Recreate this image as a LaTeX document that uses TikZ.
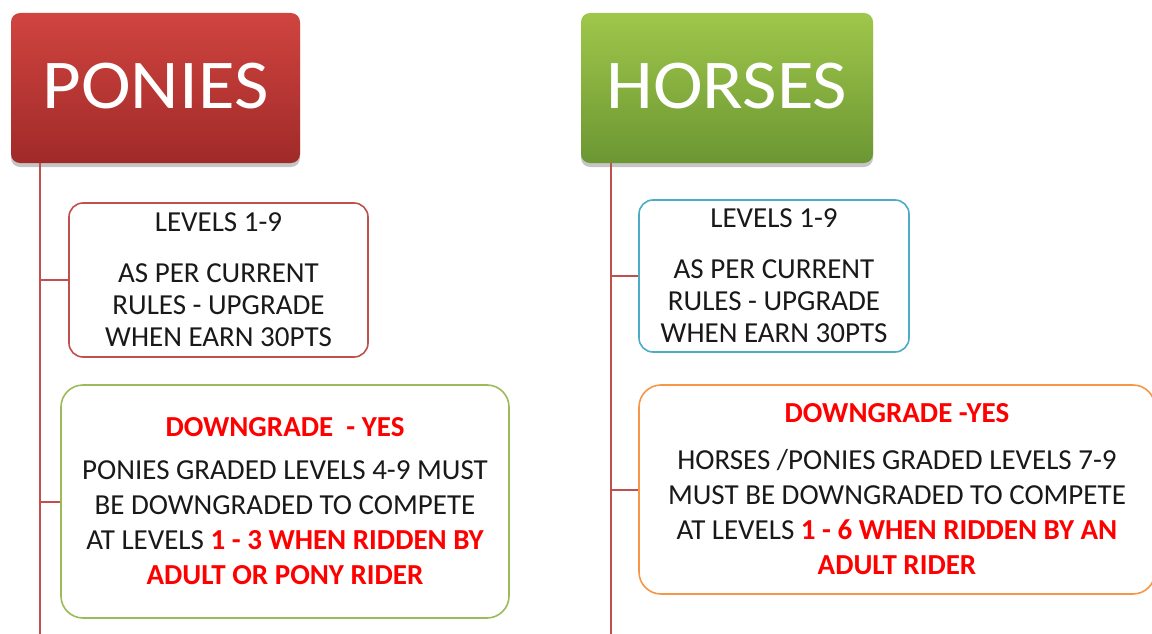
\documentclass[tikz,border=0pt]{standalone}
\usepackage{fontspec}
\setmainfont{Carlito}
\usetikzlibrary{shadows}
\definecolor{lnred}{HTML}{C0504D}
\definecolor{ptop}{HTML}{D0443F}
\definecolor{pbot}{HTML}{A02A29}
\definecolor{htop}{HTML}{9FC74B}
\definecolor{hbot}{HTML}{6C9632}
\definecolor{bblue}{HTML}{4BACC6}
\definecolor{bgreen}{HTML}{9BBB59}
\definecolor{borange}{HTML}{F79646}
\definecolor{txtred}{HTML}{FF0000}
\tikzset{
  title/.style={rounded corners=9pt, minimum width=#1, minimum height=150pt, inner sep=0pt,
    text=white, font=\fontsize{70}{70}\selectfont,
    drop shadow={shadow xshift=0pt, shadow yshift=-4pt, fill=black!45, opacity=.5}},
  infobox/.style={draw=#1, line width=1.6pt, rounded corners=14pt, inner sep=0pt, align=center,
    fill=white, text=black!90},
  link/.style={draw=lnred, line width=2pt},
  small/.style={font=\fontsize{29}{32}\selectfont},
  mid/.style={font=\fontsize{29}{35}\selectfont},
}
\newcommand{\rb}[1]{\textcolor{txtred}{\bfseries #1}}
\begin{document}
\begin{tikzpicture}[x=1pt,y=-1pt]
\useasboundingbox (0,0) rectangle (1152,634);
% titles
\node[title=289pt, top color=ptop, bottom color=pbot] (ponies) at (155.5,88) {\raisebox{5pt}{\scalebox{1.07}[1]{PONIES}}};
\node[title=292pt, top color=htop, bottom color=hbot] (horses) at (727,88) {\raisebox{5pt}{\scalebox{1.07}[1]{HORSES}}};
% spine coordinates
\coordinate (pspine) at (40,634);
\coordinate (hspine) at (611,634);
\draw[link] (ponies.south -| pspine) -- (pspine);
\draw[link] (horses.south -| hspine) -- (hspine);
% ponies boxes
\node[infobox=lnred, minimum width=299pt, minimum height=154pt, small] (plev) at (218.5,280)
  {LEVELS 1-9\\[19pt]AS PER CURRENT\\RULES - UPGRADE\\WHEN EARN 30PTS};
\node[infobox=bgreen, minimum width=448pt, minimum height=233pt, rounded corners=22pt, mid] (pdown) at (285,501.5)
  {\rb{DOWNGRADE\ \ - YES}\\[8pt]PONIES GRADED LEVELS 4-9 MUST\\BE DOWNGRADED TO COMPETE\\AT LEVELS \rb{1 - 3 WHEN RIDDEN BY}\\\rb{ADULT OR PONY RIDER}};
% horses boxes
\node[infobox=bblue, minimum width=270pt, minimum height=152pt, small] (hlev) at (774,276)
  {LEVELS 1-9\\[19pt]AS PER CURRENT\\RULES - UPGRADE\\WHEN EARN 30PTS};
\node[infobox=borange, minimum width=516pt, minimum height=209pt, rounded corners=22pt, mid] (hdown) at (897,489.5)
  {\rb{DOWNGRADE -YES}\\[12pt]HORSES /PONIES GRADED LEVELS 7-9\\MUST BE DOWNGRADED TO COMPETE\\AT LEVELS \rb{1 - 6 WHEN RIDDEN BY AN}\\\rb{ADULT RIDER}};
% branches
\draw[link] (plev.west -| pspine) -- (plev.west);
\draw[link] (pdown.west -| pspine) -- (pdown.west);
\draw[link] (hlev.west -| hspine) -- (hlev.west);
\draw[link] (hdown.west -| hspine) -- (hdown.west);
\end{tikzpicture}
\end{document}
